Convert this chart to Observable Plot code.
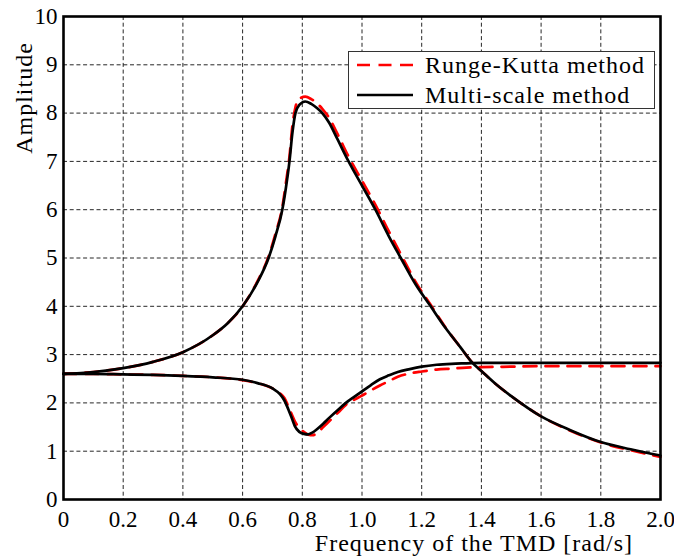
<!DOCTYPE html>
<html>
<head>
<meta charset="utf-8">
<script src="https://cdn.jsdelivr.net/npm/d3@7"></script>
<script src="https://cdn.jsdelivr.net/npm/@observablehq/plot@0.6"></script>
<style>
  html, body { margin: 0; padding: 0; background: #fff; }
</style>
</head>
<body>
<div id="chart"></div>
<script>
// ---- data ----
const xTicks = [0, 0.2, 0.4, 0.6, 0.8, 1.0, 1.2, 1.4, 1.6, 1.8, 2.0];
const yTicks = [0, 1, 2, 3, 4, 5, 6, 7, 8, 9, 10];

// resonant (upper) branch
const freqUpper = [0, 0.1, 0.2, 0.3, 0.4, 0.5, 0.55, 0.6, 0.65, 0.687, 0.71, 0.733, 0.745, 0.757, 0.767, 0.777, 0.79, 0.81, 0.83, 0.85, 0.867, 0.89, 0.917, 0.955, 1.0, 1.045, 1.09, 1.13, 1.18, 1.23, 1.28, 1.33, 1.37, 1.4, 1.45, 1.5, 1.6, 1.7, 1.8, 1.9, 2.0];
const msUpper   = [2.6, 2.64, 2.72, 2.85, 3.05, 3.4, 3.65, 4.0, 4.5, 5.0, 5.45, 6.0, 6.45, 7.0, 7.6, 8.0, 8.17, 8.24, 8.19, 8.1, 8.0, 7.8, 7.47, 7.0, 6.5, 6.0, 5.45, 5.0, 4.45, 4.0, 3.55, 3.15, 2.83, 2.66, 2.38, 2.14, 1.72, 1.43, 1.19, 1.04, 0.91];
const rkUpper   = [2.6, 2.64, 2.72, 2.85, 3.05, 3.4, 3.65, 4.0, 4.52, 5.03, 5.5, 6.05, 6.55, 7.1, 7.75, 8.12, 8.3, 8.34, 8.29, 8.2, 8.09, 7.9, 7.58, 7.1, 6.6, 6.1, 5.55, 5.08, 4.5, 4.03, 3.56, 3.15, 2.83, 2.66, 2.38, 2.14, 1.72, 1.42, 1.18, 1.02, 0.88];

// non-resonant (lower) branch
const freqLower = [0, 0.1, 0.2, 0.3, 0.4, 0.5, 0.6, 0.65, 0.7, 0.725, 0.74, 0.753, 0.765, 0.775, 0.79, 0.805, 0.82, 0.835, 0.848, 0.87, 0.89, 0.92, 0.946, 0.975, 1.0, 1.03, 1.06, 1.09, 1.12, 1.16, 1.2, 1.25, 1.3, 1.35, 1.4, 1.5, 1.6, 1.8, 2.0];
const msLower   = [2.6, 2.6, 2.59, 2.58, 2.56, 2.53, 2.48, 2.41, 2.3, 2.18, 2.05, 1.87, 1.68, 1.52, 1.4, 1.36, 1.35, 1.39, 1.45, 1.57, 1.69, 1.86, 2.0, 2.13, 2.24, 2.37, 2.49, 2.57, 2.64, 2.7, 2.75, 2.79, 2.81, 2.82, 2.83, 2.83, 2.83, 2.83, 2.83];
const rkLower   = [2.6, 2.6, 2.59, 2.58, 2.56, 2.53, 2.47, 2.41, 2.3, 2.2, 2.1, 1.93, 1.76, 1.62, 1.48, 1.4, 1.34, 1.33, 1.37, 1.5, 1.62, 1.8, 1.96, 2.07, 2.15, 2.26, 2.36, 2.45, 2.54, 2.61, 2.65, 2.69, 2.71, 2.73, 2.74, 2.75, 2.76, 2.76, 2.76];

const seriesNames = ["Runge-Kutta method", "Multi-scale method"];
const xLabel = "Frequency of the TMD [rad/s]";
const yLabel = "Amplitude";

// ---- build tables ----
function rows(freqs, vals, branch) {
  return freqs.map((f, i) => ({f, a: vals[i], branch}));
}
const rkRows = rows(freqUpper, rkUpper, "upper").concat(rows(freqLower, rkLower, "lower"));
const msRows = rows(freqUpper, msUpper, "upper").concat(rows(freqLower, msLower, "lower"));

const W = 674, H = 556;
const mL = 63, mR = 14, mT = 16, mB = 57;

const chart = Plot.plot({
  width: W,
  height: H,
  marginLeft: mL,
  marginRight: mR,
  marginTop: mT,
  marginBottom: mB,
  style: {fontFamily: "'Liberation Serif', serif", fontSize: "23px", color: "#000", background: "#fff"},
  x: {domain: [0, 2], ticks: xTicks, tickFormat: d => d === 0 ? "0" : d.toFixed(1), tickSize: 0, tickPadding: 11, label: null},
  y: {domain: [0, 10], ticks: yTicks, tickFormat: d => String(d), tickSize: 0, tickPadding: 6, label: null},
  marks: [
    Plot.gridX(xTicks, {stroke: "#000", strokeOpacity: 0.85, strokeWidth: 1, strokeDasharray: "4,2.7"}),
    Plot.gridY(yTicks, {stroke: "#000", strokeOpacity: 0.85, strokeWidth: 1, strokeDasharray: "4,2.7"}),
    Plot.line(rkRows, {x: "f", y: "a", z: "branch", stroke: "#ff0000", strokeWidth: 2.7, strokeDasharray: "13,9", curve: "monotone-x"}),
    Plot.line(msRows, {x: "f", y: "a", z: "branch", stroke: "#000", strokeWidth: 2.7, curve: "monotone-x"}),
    Plot.frame({stroke: "#000", strokeWidth: 2.6})
  ]
});

document.getElementById("chart").appendChild(chart);

// ---- axis labels and legend ----
const svg = d3.select(chart);
const labelFont = "'Liberation Serif', serif";

svg.append("text")
  .attr("x", 633).attr("y", 551)
  .attr("text-anchor", "end")
  .style("font-family", labelFont).style("font-size", "24px").style("letter-spacing", "1px")
  .attr("fill", "#000")
  .text(xLabel);

svg.append("text")
  .attr("transform", "translate(31.5,98) rotate(-90)")
  .attr("text-anchor", "middle")
  .style("font-family", labelFont).style("font-size", "24px").style("letter-spacing", "1px")
  .attr("fill", "#000")
  .text(yLabel);

const lg = svg.append("g").attr("text-anchor", "start");
lg.append("rect")
  .attr("x", 348.5).attr("y", 51.5).attr("width", 306).attr("height", 57)
  .attr("fill", "#fff").attr("stroke", "#333").attr("stroke-width", 1);
const legendStyles = [
  {stroke: "#ff0000", dash: "13,8.5"},
  {stroke: "#000", dash: null}
];
seriesNames.forEach((name, i) => {
  const cy = 65 + i * 30;
  const ln = lg.append("line")
    .attr("x1", 357).attr("x2", 413).attr("y1", cy).attr("y2", cy)
    .attr("stroke", legendStyles[i].stroke).attr("stroke-width", 2.7);
  if (legendStyles[i].dash) ln.attr("stroke-dasharray", legendStyles[i].dash);
  lg.append("text")
    .attr("x", 425).attr("y", cy).attr("dy", "0.35em")
    .attr("text-anchor", "start")
    .style("font-family", labelFont).style("font-size", "24px").style("letter-spacing", "1px")
    .attr("fill", "#000")
    .text(name);
});
</script>
</body>
</html>
